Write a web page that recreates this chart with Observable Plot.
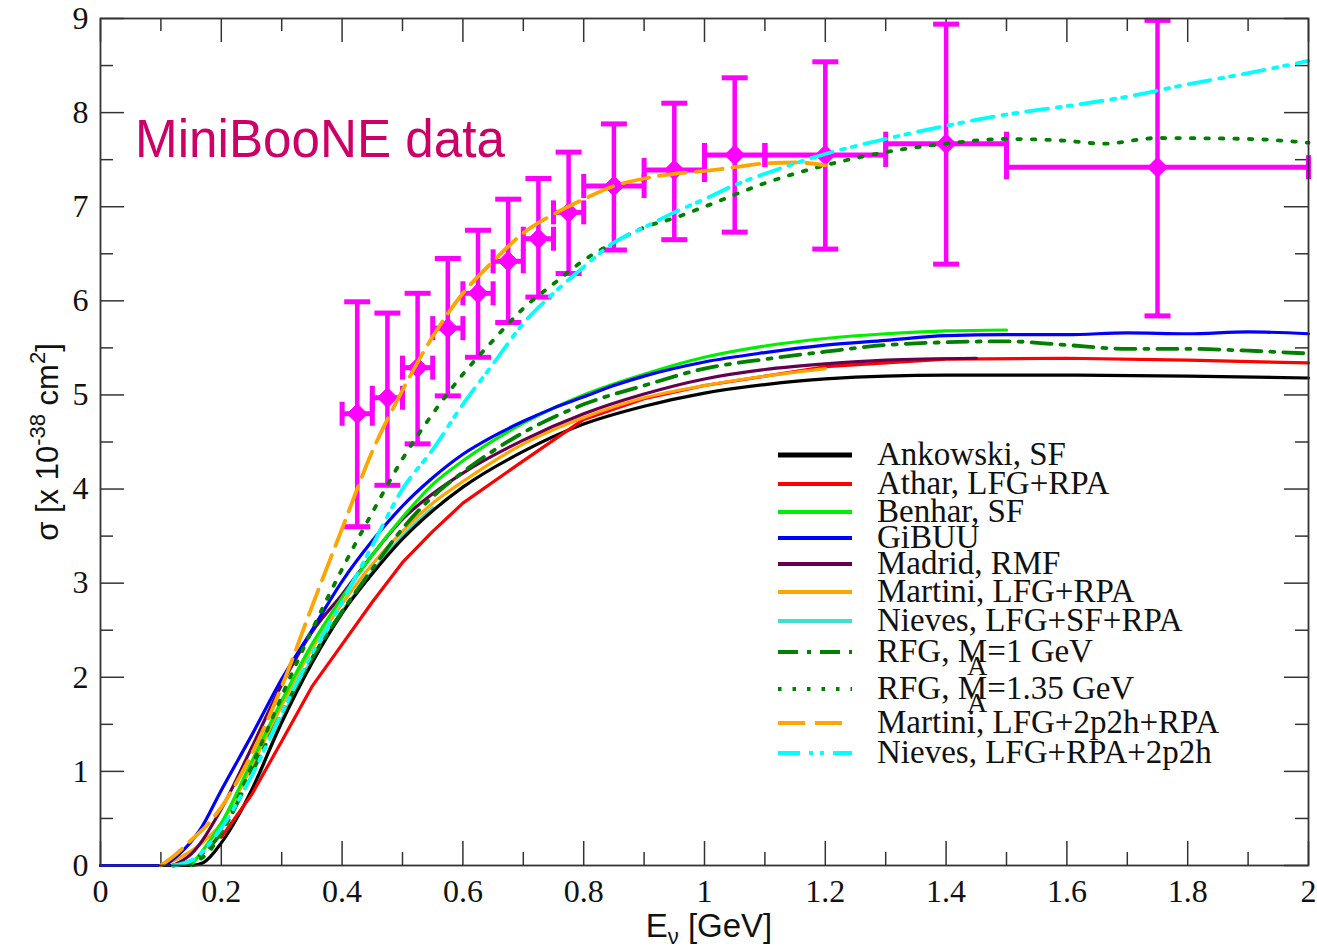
<!DOCTYPE html>
<html>
<head>
<meta charset="utf-8">
<script src="https://cdn.jsdelivr.net/npm/d3@7"></script>
<script src="https://cdn.jsdelivr.net/npm/@observablehq/plot@0.6"></script>
<style>
  body { margin: 0; background: #fff; }
  #chart { width: 1317px; height: 952px; }
</style>
</head>
<body>
<div id="chart"></div>
<script>
// ---------- data ----------
const xTicks = [0, 0.2, 0.4, 0.6, 0.8, 1, 1.2, 1.4, 1.6, 1.8, 2];
const xMinor = [0.1, 0.3, 0.5, 0.7, 0.9, 1.1, 1.3, 1.5, 1.7, 1.9];
const yTicks = [0, 1, 2, 3, 4, 5, 6, 7, 8, 9];
const yMinor = [0.5, 1.5, 2.5, 3.5, 4.5, 5.5, 6.5, 7.5, 8.5];

// MiniBooNE data
const dataE     = [0.425, 0.475, 0.525, 0.575, 0.625, 0.675, 0.725, 0.775, 0.85, 0.95, 1.05, 1.2, 1.4, 1.75];
const dataSigma = [4.80, 4.97, 5.29, 5.71, 6.08, 6.42, 6.66, 6.94, 7.22, 7.39, 7.55, 7.55, 7.67, 7.42];
const dataHigh  = [5.99, 5.87, 6.08, 6.45, 6.75, 7.08, 7.30, 7.58, 7.88, 8.10, 8.37, 8.54, 8.94, 8.98];
const dataLow   = [3.60, 4.04, 4.48, 4.99, 5.40, 5.77, 6.04, 6.29, 6.54, 6.65, 6.73, 6.55, 6.39, 5.84];
const binLow    = [0.40, 0.45, 0.50, 0.55, 0.60, 0.65, 0.70, 0.75, 0.80, 0.90, 1.00, 1.10, 1.30, 1.50];
const binHigh   = [0.45, 0.50, 0.55, 0.60, 0.65, 0.70, 0.75, 0.80, 0.90, 1.00, 1.10, 1.30, 1.50, 2.00];

// model curves: [E (GeV), sigma (1e-38 cm^2)]
const ankowski = [[0,0],[0.15,0],[0.17,0.03],[0.2,0.24],[0.23,0.55],[0.25,0.8],[0.3,1.52],[0.35,2.15],[0.4,2.68],[0.45,3.1],[0.5,3.47],[0.55,3.77],[0.6,4.02],[0.7,4.4],[0.8,4.69],[0.9,4.88],[1.0,5.02],[1.1,5.11],[1.2,5.17],[1.4,5.21],[1.6,5.21],[1.8,5.2],[2.0,5.18]];
const athar = [[0.2,0.3],[0.25,0.75],[0.3,1.32],[0.35,1.9],[0.4,2.35],[0.45,2.8],[0.5,3.22],[0.55,3.55],[0.6,3.85],[0.7,4.3],[0.8,4.74],[0.9,4.96],[1.0,5.1],[1.2,5.3],[1.4,5.38],[1.6,5.39],[1.8,5.37],[2.0,5.34]];
const benhar = [[0.15,0],[0.2,0.45],[0.25,1.1],[0.3,1.75],[0.35,2.35],[0.4,2.85],[0.45,3.3],[0.5,3.7],[0.55,4.05],[0.6,4.3],[0.7,4.7],[0.8,5.0],[0.9,5.22],[1.0,5.4],[1.1,5.52],[1.2,5.6],[1.3,5.65],[1.4,5.68],[1.5,5.69]];
const gibuu = [[0,0],[0.1,0],[0.13,0.12],[0.165,0.38],[0.2,0.8],[0.25,1.38],[0.3,1.98],[0.35,2.5],[0.4,3.02],[0.45,3.45],[0.5,3.82],[0.55,4.12],[0.6,4.37],[0.65,4.56],[0.7,4.72],[0.75,4.86],[0.8,4.98],[0.85,5.1],[0.9,5.2],[1.0,5.35],[1.1,5.45],[1.2,5.53],[1.3,5.58],[1.4,5.63],[1.5,5.64],[1.6,5.64],[1.7,5.66],[1.8,5.65],[1.9,5.67],[2.0,5.65]];
const madrid = [[0.12,0],[0.15,0.12],[0.2,0.6],[0.25,1.25],[0.3,1.92],[0.35,2.48],[0.4,2.88],[0.45,3.3],[0.5,3.68],[0.55,3.95],[0.6,4.17],[0.7,4.52],[0.8,4.8],[0.9,5.01],[1.0,5.17],[1.1,5.27],[1.2,5.33],[1.3,5.37],[1.45,5.39]];
const martini = [[0.1,0],[0.13,0.08],[0.17,0.25],[0.2,0.45],[0.25,1.05],[0.3,1.7],[0.35,2.3],[0.4,2.78],[0.45,3.2],[0.5,3.55],[0.55,3.85],[0.6,4.08],[0.7,4.48],[0.8,4.76],[0.9,4.97],[1.0,5.1],[1.1,5.2],[1.2,5.28]];
const nieves = [[0.254,0.8],[0.3,1.55],[0.35,2.2],[0.4,2.7],[0.45,3.12],[0.5,3.5],[0.55,3.8]];
const rfg1 = [[0.12,0],[0.15,0.05],[0.2,0.35],[0.25,0.98],[0.3,1.62],[0.35,2.2],[0.4,2.7],[0.45,3.15],[0.5,3.58],[0.55,3.92],[0.6,4.18],[0.7,4.6],[0.8,4.9],[0.9,5.1],[1.0,5.28],[1.1,5.38],[1.2,5.46],[1.3,5.53],[1.4,5.56],[1.5,5.57],[1.6,5.53],[1.7,5.49],[1.8,5.49],[1.9,5.47],[2.0,5.44]];
const rfg135 = [[0.12,0],[0.15,0.03],[0.18,0.15],[0.2,0.35],[0.25,1.05],[0.3,1.8],[0.35,2.5],[0.4,3.15],[0.45,3.75],[0.5,4.32],[0.55,4.8],[0.6,5.22],[0.65,5.58],[0.7,5.92],[0.75,6.18],[0.8,6.43],[0.85,6.62],[0.9,6.78],[0.95,6.88],[1.0,7.0],[1.1,7.25],[1.2,7.44],[1.3,7.58],[1.4,7.67],[1.5,7.72],[1.6,7.7],[1.66,7.67],[1.75,7.73],[1.9,7.72],[2.0,7.68]];
const martini2p2h = [[0.1,0],[0.125,0.12],[0.15,0.27],[0.175,0.42],[0.2,0.62],[0.25,1.18],[0.3,1.9],[0.35,2.75],[0.4,3.58],[0.45,4.4],[0.5,5.05],[0.55,5.62],[0.6,6.08],[0.65,6.42],[0.7,6.72],[0.75,6.92],[0.8,7.08],[0.85,7.22],[0.9,7.3],[0.95,7.35],[1.0,7.38],[1.05,7.42],[1.1,7.46],[1.15,7.47],[1.2,7.44]];
const nieves2p2h = [[0.12,0],[0.15,0.05],[0.2,0.4],[0.25,0.95],[0.3,1.62],[0.35,2.25],[0.4,2.8],[0.45,3.4],[0.5,4.0],[0.55,4.42],[0.6,4.9],[0.65,5.33],[0.7,5.76],[0.75,6.08],[0.8,6.36],[0.85,6.62],[0.9,6.78],[0.95,6.94],[1.0,7.08],[1.05,7.23],[1.1,7.35],[1.2,7.56],[1.3,7.72],[1.4,7.86],[1.5,7.98],[1.6,8.07],[1.7,8.17],[1.8,8.3],[1.9,8.42],[2.0,8.55]];

const seriesNames  = ["Ankowski, SF","Athar, LFG+RPA","Benhar, SF","GiBUU","Madrid, RMF","Martini, LFG+RPA","Nieves, LFG+SF+RPA","RFG, M|A|=1 GeV","RFG, M|A|=1.35 GeV","Martini, LFG+2p2h+RPA","Nieves, LFG+RPA+2p2h"];
const seriesData   = [ankowski, athar, benhar, gibuu, madrid, martini, nieves, rfg1, rfg135, martini2p2h, nieves2p2h];
const seriesColors = ["#000000","#ff0000","#00ee00","#0000ff","#650050","#ffa500","#40e0d0","#008000","#008000","#ffa500","#00ffff"];
const seriesDash   = [null,null,null,null,null,null,null,"20,9,4,9","3.5,11","27,10","22,9,4,7,4,9"];
const seriesCurve  = ["monotone-x","linear","monotone-x","monotone-x","monotone-x","monotone-x","monotone-x","monotone-x","monotone-x","monotone-x","monotone-x"];
const drawOrder    = [6, 0, 1, 5, 4, 2, 3, 7, 8, 9, 10];

// ---------- layout ----------
const W = 1317, H = 952, mL = 100, mR = 9, mT = 18, mB = 87;
const innerW = W - mL - mR, innerH = H - mT - mB;
const MAG = "#ff00ff";
const axisColor = "#333";

const points = dataE.map((e, i) => ({E: e, s: dataSigma[i], hi: dataHigh[i], lo: dataLow[i], bl: binLow[i], bh: binHigh[i]}));

const hcap = {draw(ctx, size) { const r = Math.sqrt(size / Math.PI); ctx.moveTo(-r, 0); ctx.lineTo(r, 0); }};
const vcap = {draw(ctx, size) { const r = Math.sqrt(size / Math.PI); ctx.moveTo(0, -r); ctx.lineTo(0, r); }};

const curveMarks = drawOrder.map(i => Plot.line(seriesData[i], {
  x: d => d[0], y: d => d[1],
  stroke: seriesColors[i], strokeWidth: seriesDash[i] ? 3.8 : 3.2,
  strokeDasharray: seriesDash[i] || undefined,
  curve: seriesCurve[i]
}));

const plot = Plot.plot({
  width: W, height: H,
  marginLeft: mL, marginRight: mR, marginTop: mT, marginBottom: mB,
  style: {background: "#fff", fontFamily: "Liberation Serif"},
  x: {domain: [0, 2]},
  y: {domain: [0, 9]},
  marks: [
    // ticks on all four sides, pointing inwards
    Plot.ruleX(xTicks, {insetTop: innerH - 24, stroke: axisColor, strokeWidth: 1.5}),
    Plot.ruleX(xTicks, {insetBottom: innerH - 24, stroke: axisColor, strokeWidth: 1.5}),
    Plot.ruleX(xMinor, {insetTop: innerH - 13, stroke: axisColor, strokeWidth: 1.5}),
    Plot.ruleX(xMinor, {insetBottom: innerH - 13, stroke: axisColor, strokeWidth: 1.5}),
    Plot.ruleY(yTicks, {insetRight: innerW - 24, stroke: axisColor, strokeWidth: 1.5}),
    Plot.ruleY(yTicks, {insetLeft: innerW - 24, stroke: axisColor, strokeWidth: 1.5}),
    Plot.ruleY(yMinor, {insetRight: innerW - 13, stroke: axisColor, strokeWidth: 1.5}),
    Plot.ruleY(yMinor, {insetLeft: innerW - 13, stroke: axisColor, strokeWidth: 1.5}),
    Plot.axisX(xTicks, {tickSize: 0, tickPadding: 14, fontSize: 32, fontFamily: "Liberation Serif", fill: "#111", label: null, tickFormat: d => d3.format("~g")(d)}),
    Plot.axisY(yTicks, {tickSize: 0, tickPadding: 12, fontSize: 32, fontFamily: "Liberation Serif", fill: "#111", label: null, tickFormat: d => d3.format("~g")(d)}),
    // MiniBooNE data
    Plot.ruleX(points, {x: "E", y1: "lo", y2: "hi", stroke: MAG, strokeWidth: 4.5}),
    Plot.ruleY(points, {y: "s", x1: "bl", x2: "bh", stroke: MAG, strokeWidth: 5}),
    Plot.dot(points, {x: "E", y: "hi", symbol: hcap, r: 13, stroke: MAG, strokeWidth: 5, fill: "none"}),
    Plot.dot(points, {x: "E", y: "lo", symbol: hcap, r: 13, stroke: MAG, strokeWidth: 5, fill: "none"}),
    Plot.dot(points, {x: "bl", y: "s", symbol: vcap, r: 12, stroke: MAG, strokeWidth: 5, fill: "none"}),
    Plot.dot(points, {x: "bh", y: "s", symbol: vcap, r: 12, stroke: MAG, strokeWidth: 5, fill: "none"}),
    Plot.dot(points, {x: "E", y: "s", symbol: "diamond2", r: 9, fill: MAG, stroke: MAG, strokeWidth: 1}),
    // model curves
    ...curveMarks,
    Plot.frame({stroke: axisColor, strokeWidth: 1.8})
  ]
});

document.getElementById("chart").appendChild(plot);

// ---------- extra texts & legend ----------
const svg = d3.select(plot);
const NS = "Liberation Sans";

// x-axis title
const xl = svg.append("text").attr("x", 709).attr("y", 937).attr("text-anchor", "middle")
  .attr("font-family", NS).attr("font-size", 33).attr("fill", "#111");
xl.append("tspan").text("E");
xl.append("tspan").attr("dy", 7).attr("font-size", 22).text("ν");
xl.append("tspan").attr("dy", -7).text(" [GeV]");

// y-axis title
const yl = svg.append("text").attr("transform", "translate(58,442) rotate(-90)").attr("text-anchor", "middle")
  .attr("font-family", NS).attr("font-size", 31).attr("fill", "#111");
yl.append("tspan").text("σ [x 10");
yl.append("tspan").attr("dy", -13).attr("font-size", 22).text("-38");
yl.append("tspan").attr("dy", 13).text(" cm");
yl.append("tspan").attr("dy", -13).attr("font-size", 22).text("2");
yl.append("tspan").attr("dy", 13).text("]");

// data label
svg.append("text").attr("x", 135).attr("y", 157).attr("text-anchor", "start")
  .attr("font-family", NS).attr("font-size", 53).attr("fill", "#cc0066")
  .attr("textLength", 370).attr("lengthAdjust", "spacingAndGlyphs")
  .text("MiniBooNE data");

// legend
const legendRowY = [455, 484, 512, 538, 564, 592, 621, 652, 689, 723, 753];
const lg = svg.append("g").attr("font-family", "Liberation Serif").attr("font-size", 33)
  .attr("fill", "#111").attr("text-anchor", "start");
seriesNames.forEach((name, i) => {
  const y = legendRowY[i];
  lg.append("line").attr("x1", 778).attr("x2", 852).attr("y1", y).attr("y2", y)
    .attr("stroke", seriesColors[i]).attr("stroke-width", i === 0 ? 5 : 4)
    .attr("stroke-dasharray", seriesDash[i] || null);
  const t = lg.append("text").attr("x", 877).attr("y", y + 10).attr("text-anchor", "start");
  const parts = name.split("|");
  if (parts.length === 3) {
    t.append("tspan").text(parts[0]);
    t.append("tspan").attr("dx", -20).attr("dy", 13).attr("font-size", 28).text(parts[1]);
    t.append("tspan").attr("dy", -13).text(parts[2]);
  } else {
    t.text(name);
  }
});
</script>
</body>
</html>
